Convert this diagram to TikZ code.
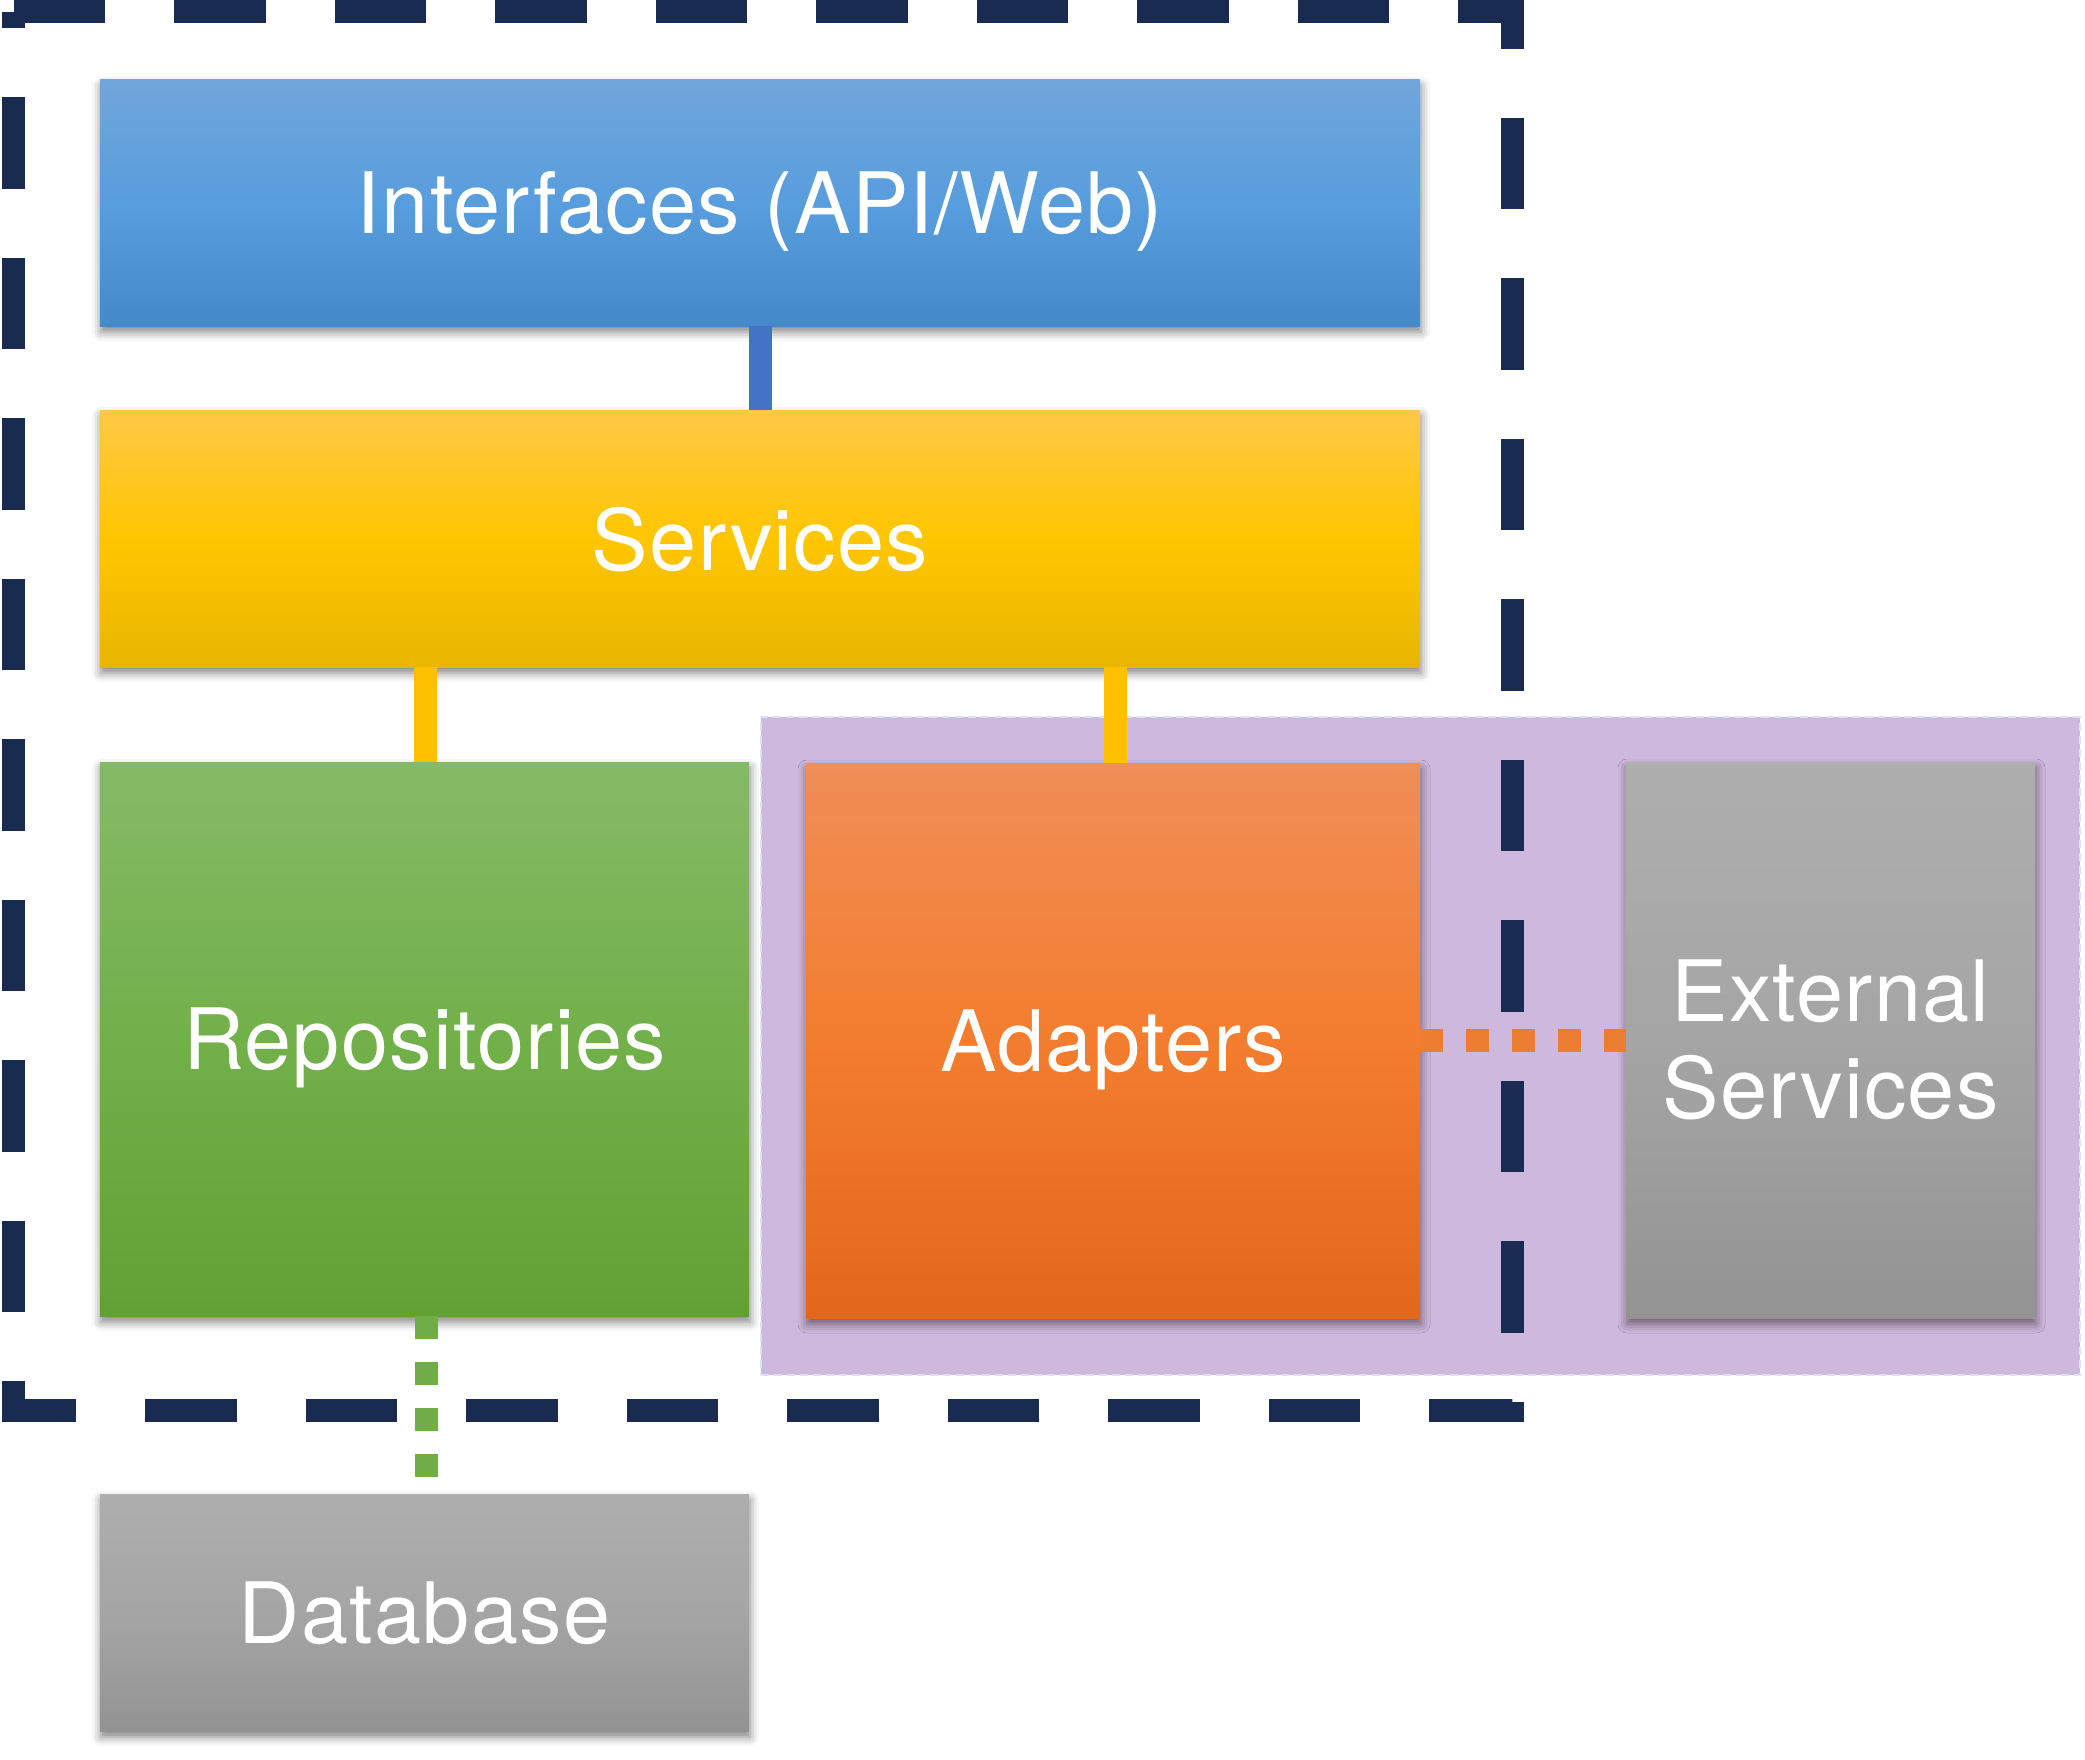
\documentclass[tikz,border=0pt]{standalone}
\usepackage{fontspec}
\setmainfont{TeX Gyre Heros}[LetterSpace=1.5]
\usetikzlibrary{shadows.blur}
\definecolor{navy}{HTML}{1A2B52}
\definecolor{connblue}{HTML}{4472C4}
\definecolor{connyellow}{HTML}{FFC000}
\definecolor{conngreen}{HTML}{70AD47}
\definecolor{connorange}{HTML}{ED7D31}
\definecolor{groupfill}{HTML}{CFB8DD}
\definecolor{groupline}{HTML}{DAE3F3}
\definecolor{blueA}{HTML}{70A6DB}
\definecolor{blueB}{HTML}{589DDD}
\definecolor{blueC}{HTML}{4489CA}
\definecolor{yelA}{HTML}{FFC846}
\definecolor{yelB}{HTML}{FFC600}
\definecolor{yelC}{HTML}{E8B600}
\definecolor{grnA}{HTML}{85BA66}
\definecolor{grnB}{HTML}{72B04A}
\definecolor{grnC}{HTML}{61A134}
\definecolor{orgA}{HTML}{F08E58}
\definecolor{orgB}{HTML}{F37D2E}
\definecolor{orgC}{HTML}{E3671A}
\definecolor{gryA}{HTML}{AEAEAE}
\definecolor{gryB}{HTML}{A5A5A5}
\definecolor{gryC}{HTML}{939393}
\tikzset{
  layer/.style={rectangle, inner sep=0pt, text=white,
    font=\fontsize{85}{97.5}\selectfont, align=center,
    blur shadow={shadow xshift=1bp, shadow yshift=-6bp, shadow blur radius=9bp, shadow opacity=50}},
  oneline/.style={text depth=0pt},
  bluegrad/.style={top color=blueA, bottom color=blueC, middle color=blueB},
  yelgrad/.style={top color=yelA, bottom color=yelC, middle color=yelB},
  grngrad/.style={top color=grnA, bottom color=grnC, middle color=grnB},
  orggrad/.style={top color=orgA, bottom color=orgC, middle color=orgB},
  grygrad/.style={top color=gryA, bottom color=gryC, middle color=gryB},
  conn/.style={line width=23bp},
  dotconn/.style={line width=23bp, dash pattern=on 23bp off 23bp},
  boundary/.style={draw=navy, line width=23bp, dash pattern=on 91.5bp off 69bp, line join=miter},
  groupbox/.style={rectangle, inner sep=0pt, fill=groupfill, draw=groupline, line width=2bp, dash pattern=on 8bp off 5bp},
}
\begin{document}
\begin{tikzpicture}[x=1bp,y=-1bp]
\useasboundingbox (0,0) rectangle (2085,1760);
% external group region
\node[groupbox, minimum width=1319bp, minimum height=658bp] (grp) at (1420.5,1046) {};
% system boundary
\coordinate (bTL) at (13.5,11.5);
\coordinate (bTR) at (1512.5,11.5);
\coordinate (bBR) at (1512.5,1410);
\coordinate (bBL) at (13.5,1410);
\draw[boundary] (bTL) -- (bTR) -- (bBR) -- (bBL) -- cycle;
% layers
\node[layer, oneline, bluegrad, minimum width=1320bp, minimum height=246bp] (iface) at (760,203) {Interfaces (API/Web)};
\node[layer, oneline, yelgrad, minimum width=1320bp, minimum height=257bp] (svc) at (760,538.5) {Services};
\node[layer, oneline, grngrad, minimum width=649bp, minimum height=554bp] (repo) at (424.5,1039) {Repositories};
\node[layer, oneline, orggrad, minimum width=614bp, minimum height=555bp] (adapt) at (1113,1040.5) {Adapters};
\node[layer, grygrad, minimum width=409bp, minimum height=556bp] (ext) at (1830.5,1040) {External\\Services};
\node[layer, oneline, grygrad, minimum width=649bp, minimum height=237bp] (db) at (424.5,1612.5) {Database};
% connectors
\draw[conn, connblue] (iface.south) -- (svc.north);
\draw[conn, connyellow] ([xshift=1bp]repo.north) -- ([xshift=1bp]repo.north |- svc.south);
\draw[conn, connyellow] ([xshift=2.5bp]adapt.north) -- ([xshift=2.5bp]adapt.north |- svc.south);
\draw[dotconn, conngreen] ([xshift=1.5bp]repo.south) -- ([xshift=1.5bp]db.north);
\draw[dotconn, connorange] (adapt.east) -- (adapt.east -| ext.west);
\end{tikzpicture}
\end{document}
